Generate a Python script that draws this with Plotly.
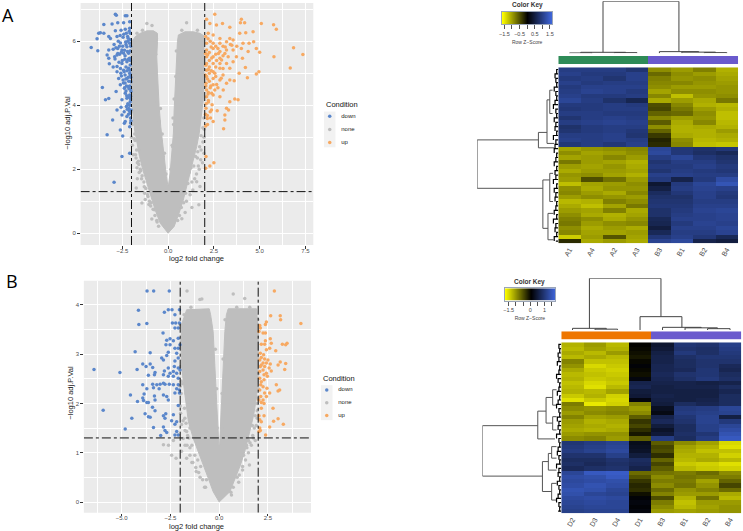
import plotly.graph_objects as go

W, H = 743, 531

# ---------- Volcano A ----------
a_down_x = [-4.20,-3.84,-3.88,-3.79,-3.70,-3.51,-3.51,-3.06,-2.88,-2.83,-2.34,-2.25,-2.75,-2.43,-2.10,-2.88,-2.57,-2.34,-2.10,-3.24,-3.15,-2.79,-2.46,-2.21,-2.07,-3.24,-3.33,-3.24,-2.75,-2.52,-2.25,-2.10,-2.79,-2.43,-2.16,-3.21,-2.79,-2.52,-2.25,-2.10,-2.79,-2.43,-2.16,-2.07,-2.70,-2.46,-2.25,-2.07,-2.61,-2.39,-2.16,-2.03,-2.34,-2.10,-2.03,-3.59,-2.84,-3.42,-3.24,-2.52,-2.25,-2.07,-2.79,-2.57,-2.28,-2.10,-2.52,-2.25,-2.07,-3.03,-2.34,-2.03,-2.61,-2.39,-3.33,-2.48,-2.10,-2.52,-2.10,-2.95,-2.2,-2.3,-2.6,-2.95,-3.0,-2.05,-2.15,-2.35,-2.65,-2.9,-2.3,-2.6,-3.0,-2.1,-2.35,-2.55,-2.15,-2.35,-2.1,-2.3,-2.05,-2.2,-2.15,-2.4,-2.05,
            -2.12,-2.28,-2.42,-2.62,-2.72,-2.05,-2.18,-2.32,-2.48,-2.66,-2.85,-2.08,-2.22,-2.38,-2.55,-2.75,-2.92,-2.06,-2.2,-2.36,-2.5,-2.68,-2.09,-2.24,-2.4,-2.58,-2.04,-2.17,-2.31,-2.44,-2.06,-2.14,-2.27,-2.37,-2.05,-2.13,-2.26,-2.09,-2.19,-2.03,-2.12,-2.23,-2.05,-2.16]
a_down_y = [5.81,5.71,6.08,6.25,6.27,6.25,6.53,6.54,6.85,6.82,6.80,6.80,6.58,6.58,6.61,6.33,6.35,6.38,6.41,6.15,6.09,6.15,6.13,6.15,6.25,5.73,5.57,5.47,5.78,5.73,5.83,5.94,5.57,5.63,5.63,5.30,5.21,5.31,5.36,5.47,5.05,5.10,5.16,5.26,4.84,4.79,4.84,4.95,4.64,4.53,4.58,4.74,4.38,4.32,4.43,4.56,4.43,4.17,4.21,4.17,4.22,4.11,3.85,3.94,3.96,4.01,3.70,3.65,3.75,3.54,3.49,3.52,3.23,3.44,3.08,3.04,3.33,2.40,2.50,1.59,6.0,5.9,5.95,5.9,5.75,5.85,5.45,5.55,5.6,5.45,5.2,5.15,5.2,5.0,4.95,4.92,4.75,4.7,4.6,4.45,4.2,4.05,3.9,3.8,3.6,
            6.32,6.25,6.22,6.18,6.0,6.05,6.1,5.98,5.85,5.85,5.8,5.7,5.68,5.72,5.66,5.62,5.52,5.4,5.42,5.44,5.4,5.35,5.1,5.08,5.05,5.0,4.88,4.88,4.82,4.7,4.5,4.52,4.6,4.55,4.28,4.25,4.3,4.0,4.02,3.85,3.82,3.88,3.45,3.72]
a_up_x = [2.10,2.55,2.28,2.64,2.97,3.37,4.0,3.95,4.18,5.09,5.76,5.91,2.19,2.46,2.83,3.37,3.91,4.24,4.64,2.10,2.46,2.83,3.19,3.55,4.09,4.67,4.42,2.10,2.46,2.83,3.19,3.55,4.0,4.37,4.82,5.0,6.85,7.36,5.78,6.67,2.10,2.46,2.83,3.28,3.73,4.06,2.10,2.46,2.83,3.19,3.55,2.10,2.46,2.83,3.37,3.88,4.22,4.82,4.96,2.10,2.46,2.83,3.37,3.61,4.33,2.07,2.46,3.19,2.10,2.55,3.01,2.10,2.46,2.83,3.37,3.64,3.82,2.07,2.37,2.68,3.19,3.30,2.14,2.46,3.10,3.10,3.03,2.07,2.05,2.28,2.50,2.3,2.6,2.25,2.6,2.25,2.65,3.0,2.25,2.6,3.0,2.25,2.6,2.25,3.0,2.3,2.2,2.65,2.2,2.3,3.4,3.75,3.0,
          2.05,2.18,2.35,2.72,3.12,3.48,2.04,2.16,2.38,2.75,2.92,3.1,2.06,2.2,2.36,2.55,2.9,2.04,2.15,2.33,2.72,2.06,2.18,2.38,2.08,2.2,2.4,2.04,2.14,2.05,2.15,2.32]
a_up_y = [6.69,6.85,6.56,6.51,6.56,6.44,6.69,6.58,6.58,6.56,6.52,6.38,6.25,6.20,6.09,6.09,6.25,6.27,6.30,5.94,5.94,5.94,5.99,6.04,5.94,5.99,5.94,5.73,5.78,5.68,5.73,5.73,5.78,5.68,5.78,5.66,5.80,5.59,5.52,5.17,5.52,5.52,5.47,5.52,5.52,5.47,5.31,5.31,5.31,5.31,5.36,5.10,5.05,5.16,5.16,5.0,5.18,4.98,5.05,4.90,4.84,4.79,4.79,4.77,4.86,4.69,4.64,4.69,4.48,4.48,4.48,4.27,4.32,4.27,4.11,4.20,4.17,3.91,3.85,3.83,3.91,3.85,3.59,3.49,3.70,3.54,3.27,2.40,2.03,2.10,2.20,6.0,5.85,5.65,5.6,5.4,5.4,5.55,5.2,5.2,5.15,5.0,4.9,4.75,4.95,4.55,4.4,4.65,4.15,3.8,5.9,5.85,5.85,
          6.15,6.08,5.82,5.78,5.82,5.88,5.62,5.58,5.48,5.62,5.42,5.62,5.25,5.12,5.08,5.0,4.85,4.95,4.82,4.6,4.55,4.6,4.35,4.38,4.05,4.1,4.02,3.72,3.68,3.35,3.4,3.6]
a_cloud_x = [0,-0.43,-0.71,-0.94,-1.16,-1.38,-1.56,-1.70,-1.83,-1.92,-2.01,-2.03,-2.03,-2.03,-1.97,-1.79,-1.52,-1.16,-0.80,-0.58,-0.58,-0.62,-0.58,-0.54,-0.49,-0.40,-0.29,-0.18,-0.09,-0.02,0.02,0.11,0.2,0.29,0.33,0.38,0.43,0.47,0.51,0.56,0.92,1.38,1.74,1.96,1.97,1.97,1.96,1.92,1.83,1.70,1.56,1.38,1.20,1.01,0.83,0.60,0.33,0]
a_cloud_y = [0,0.31,0.73,1.15,1.56,1.98,2.40,2.81,3.23,3.75,4.27,4.79,5.31,5.73,5.99,6.15,6.25,6.33,6.33,6.25,5.99,5.52,5.0,4.48,3.96,3.33,2.71,2.19,1.77,1.51,1.51,1.88,2.4,3.13,3.85,4.48,5.10,5.63,5.99,6.2,6.3,6.3,6.25,6.17,5.73,5.21,4.69,4.17,3.65,3.13,2.71,2.29,1.88,1.46,1.04,0.63,0.21,0]
a_none_x = [-1.5,-1.6,-1.75,-1.95,-1.9,-1.7,-1.45,-1.3,-1.74,-1.43,-1.1,-0.95,-0.76,-0.89,-0.6,-2.0,-1.95,-2.0,-1.8,-1.6,-1.16,-0.88,-1.4,-1.7,-0.65,-0.68,-0.66,-0.6,-0.5,-0.4,-0.27,1.01,1.6,0.75,0.45,0.42,0.33,0.3,0.25,1.68,1.3,0.93,0.75,1.56,1.74,1.35,1.7,1.88,1.96,1.96,1.8,1.95,1.6,1.2,1.0,1.97,1.9,
            -1.82,-1.72,-1.62,-1.52,-1.42,-1.32,-1.22,-1.12,-1.02,-0.92,-0.82,-0.72,-0.62,-0.52,-1.9,-1.85,-1.78,-1.68,-1.58,-1.28,-1.05,-1.68,-1.25,1.15,1.25,1.4,1.5,1.62,1.72,1.8,1.9,0.95,0.85,0.72,0.62,0.52,1.08,1.3,1.45,1.55,1.65,1.78,0.15,0.22,0.27,-0.12,-0.2,-0.32,-0.42]
a_none_y = [1.95,2.15,2.35,2.75,2.45,2.05,1.7,1.45,1.41,0.94,1.15,0.85,0.73,0.44,0.35,3.0,3.4,3.8,2.9,2.6,6.56,6.5,6.35,6.25,6.1,5.6,4.7,4.1,3.5,2.9,2.4,6.58,6.35,6.35,5.7,4.9,4.2,3.4,2.7,0.89,0.8,0.65,0.45,1.61,1.46,1.35,2.0,2.2,2.5,3.0,2.6,3.6,2.35,1.2,1.0,3.25,2.85,
            3.1,2.6,2.25,2.0,1.8,1.6,1.4,1.2,1.0,0.95,0.75,0.55,0.4,0.22,3.5,2.95,2.45,2.2,1.9,1.25,0.9,1.7,1.05,1.9,2.05,2.1,2.4,2.55,2.7,3.05,3.3,1.25,0.95,0.8,0.55,0.4,1.55,1.6,1.7,1.85,2.1,2.3,2.0,2.75,3.6,1.85,2.5,3.1,3.9]

# ---------- Volcano B ----------
b_down_x = [-3.70,-3.36,-2.56,-4.14,-4.12,-3.71,-2.61,-2.42,-2.81,-2.04,-2.27,-2.40,-2.23,-2.04,-2.27,-2.10,-2.88,-2.52,-2.69,-2.35,-2.10,-2.01,-2.73,-2.52,-2.27,-2.10,-4.31,-3.54,-2.61,-2.18,-2.95,-2.86,-2.69,-2.27,-2.10,-3.92,-3.54,-3.75,-3.41,-6.42,-4.21,-2.61,-2.30,-2.10,-2.81,-5.09,-3.29,-2.52,-2.35,-2.18,-2.01,-3.63,-3.32,-2.86,-2.61,-2.35,-2.10,-2.86,-3.03,-3.92,-3.41,-3.20,-2.78,-2.56,-2.35,-2.10,-3.37,-3.08,-3.71,-2.18,-2.04,-4.55,-3.85,-3.32,-2.86,-2.69,-2.27,-2.04,-3.92,-4.19,-3.88,-3.71,-3.63,-3.29,-2.61,-3.42,-2.10,-5.95,-3.29,-3.80,-2.74,-3.63,-3.54,-2.86,-2.78,-2.35,-4.48,-2.44,-2.18,-2.27,-4.82,-3.37,-2.86,-2.78,-2.69,-3.00,-2.18,-2.27,-2.10]
b_down_y = [4.28,4.28,4.28,3.89,3.60,3.62,3.90,3.90,3.85,3.90,3.80,3.63,3.63,3.63,3.53,3.53,3.43,3.31,3.28,3.27,3.32,3.19,3.19,3.19,3.12,3.12,3.05,3.03,3.04,3.02,2.92,2.88,2.97,2.86,2.92,2.80,2.80,2.75,2.73,2.69,2.69,2.72,2.75,2.72,2.66,2.63,2.63,2.61,2.65,2.61,2.68,2.57,2.58,2.58,2.55,2.55,2.51,2.41,2.39,2.38,2.39,2.38,2.39,2.39,2.38,2.38,2.32,2.30,2.30,2.30,2.27,2.17,2.19,2.15,2.17,2.14,2.21,2.21,2.11,2.04,2.06,2.02,2.02,2.07,2.07,1.92,1.96,1.86,1.85,1.79,1.79,1.73,1.72,1.75,1.70,1.77,1.70,1.65,1.63,1.58,1.48,1.51,1.52,1.45,1.41,1.35,1.43,1.36,1.36]
b_up_x = [2.83,2.64,3.13,3.15,4.19,2.42,2.37,2.08,2.11,2.04,2.25,2.37,2.62,2.37,2.16,2.33,2.67,3.24,3.41,3.48,2.42,2.90,2.59,2.11,2.28,2.16,2.33,2.50,2.08,2.25,2.16,2.42,2.62,3.02,3.13,3.41,2.11,2.33,2.56,2.25,3.36,2.67,2.08,2.42,2.30,2.47,2.08,2.30,2.16,2.25,2.13,2.93,2.45,2.08,3.02,3.10,2.59,2.33,2.13,2.42,2.04,2.25,2.16,2.30,2.16,2.76,2.04,2.30,2.08,2.16,3.02,2.79,3.29,2.59,2.08,2.11,2.04,2.38]
b_up_y = [4.28,3.78,3.78,3.70,3.62,3.65,3.60,3.58,3.53,3.46,3.43,3.43,3.31,3.27,3.20,3.20,3.22,3.20,3.19,3.22,3.09,3.07,3.12,3.02,2.99,2.93,2.90,2.88,2.88,2.82,2.78,2.82,2.80,2.78,2.84,2.81,2.75,2.75,2.72,2.68,2.69,2.66,2.65,2.61,2.58,2.55,2.51,2.48,2.44,2.34,2.38,2.38,2.31,2.27,2.25,2.27,2.21,2.21,2.14,2.14,2.07,2.07,2.02,2.0,1.90,1.90,1.75,1.75,1.67,1.63,1.69,1.64,1.58,1.52,1.50,1.45,1.43,1.36]
b_cloud_x = [0,-0.31,-0.56,-0.82,-1.07,-1.33,-1.58,-1.70,-1.84,-1.93,-1.96,-1.93,-1.67,-0.51,-0.44,-0.31,-0.22,-0.14,-0.07,-0.02,0.02,0.07,0.14,0.20,0.29,0.37,0.46,1.91,2.01,2.01,1.99,1.91,1.77,1.57,1.31,1.09,0.80,0.55,0]
b_cloud_y = [0,0.21,0.48,0.75,1.02,1.29,1.63,1.97,2.44,2.78,3.12,3.60,3.90,3.92,3.80,3.46,2.78,2.11,1.63,1.16,1.16,1.63,2.11,2.78,3.46,3.80,3.92,3.92,3.46,2.78,2.44,2.11,1.77,1.43,1.02,0.75,0.48,0.21,0]
b_none_x = [-2.86,-2.44,-2.21,-2.6,-2.35,-1.93,-1.67,-1.85,-1.67,-1.93,-1.76,-2.0,-1.95,-1.75,-1.5,-1.4,-1.2,-1.05,-0.85,-0.75,-1.65,-0.99,-0.89,-1.9,-1.95,-2.0,-1.8,-1.45,-1.5,-1.6,-1.7,0.72,1.31,1.57,0.63,1.0,1.2,1.35,1.5,1.65,1.75,1.9,1.95,2.0,1.85,1.55,1.85,1.4,1.98,2.0,0.9,0.3,
            -1.55,-1.4,-1.25,-1.1,-0.95,-0.65,-1.65,-1.5,-1.35,-1.18,-0.98,-0.7,-1.85,-1.75,-1.62,-1.95,-1.98,-1.78,-1.7,-1.98,-2.0,1.25,1.42,1.58,1.72,1.8,1.95,1.2,1.03,0.92,0.72,0.6,1.1,1.5,1.7,2.0,1.95,0.12,0.15,0.2,-0.1,-0.13,-0.2]
b_none_y = [1.16,0.95,0.89,1.15,1.25,1.03,0.89,1.29,1.43,1.57,1.7,1.95,2.2,1.15,1.1,0.8,0.7,0.6,0.45,0.3,4.28,4.11,4.12,2.4,3.3,3.6,3.8,3.95,1.5,1.95,2.2,4.22,4.13,3.95,0.14,0.4,0.65,0.85,1.0,1.15,1.3,1.55,1.85,2.1,1.25,0.75,1.75,1.15,3.7,2.6,3.95,3.7,
            1.3,1.15,0.95,0.85,0.72,0.45,1.15,0.95,0.8,0.62,0.5,0.3,1.65,1.45,1.35,2.45,2.75,1.9,1.6,1.8,2.35,0.95,1.1,1.2,1.35,1.5,1.7,0.72,0.55,0.5,0.3,0.2,0.9,1.25,1.55,2.3,2.0,1.5,2.2,2.9,1.5,2.3,3.1]

legend_labels = ["down", "none", "up"]
cutoff_fc = 2
cutoff_p = 1.3

# ---------- Heatmap A (columns, rows top to bottom) ----------
cols_a = ["A1", "A4", "A2", "A3", "B3", "B1", "B2", "B4"]
hm_a1 = [1.05,1.1,1.0,1.1,1.0,1.05,1.1,1.2,1.0,0.95,1.05,0.9,1.05,0.85,0.9,1.05,1.1,0.95,-1.15,-1.0,-1.15,-0.85,-1.1,-1.2,-1.05,-1.1,-1.35,-1.0,-0.95,-1.1,-1.3,-1.2,-1.1,-1.0,-0.9,-0.85,-1.0,-0.95,-1.45,-0.3]
hm_a4 = [1.05,1.0,1.05,1.0,1.1,1.15,1.0,1.05,1.0,1.0,1.05,1.05,1.1,1.0,1.0,1.05,1.05,1.05,-1.05,-1.15,-1.1,-1.1,-1.15,-1.1,-1.0,-0.55,-1.15,-1.2,-1.1,-1.0,-1.25,-1.35,-1.15,-1.2,-1.0,-1.1,-1.2,-1.15,-1.1,-1.2]
hm_a2 = [1.05,1.0,0.9,1.05,1.1,1.1,1.0,0.85,1.05,1.05,1.0,1.1,1.15,1.05,1.05,1.1,1.1,0.95,-1.0,-1.1,-0.95,-1.15,-1.05,-1.1,-1.15,-0.8,-1.1,-1.05,-1.2,-1.05,-0.9,-1.15,-0.9,-1.25,-1.2,-1.0,-1.1,-1.15,-0.6,-1.1]
hm_a3 = [0.9,1.1,1.1,1.05,1.1,1.0,1.05,0.65,1.0,1.05,1.0,1.05,1.1,1.05,0.95,0.9,1.05,1.1,-0.95,-1.0,-1.1,-1.25,-1.2,-1.15,-1.25,-1.1,-1.0,-1.05,-0.95,-1.1,-1.0,-0.85,-1.2,-1.15,-1.05,-0.95,-1.2,-1.1,-1.15,-1.2]
hm_ab3 = [-1.0,-0.75,-0.9,-0.95,-1.0,-1.15,-0.95,-1.2,-0.55,-0.5,-0.7,-0.95,-0.65,-1.0,-0.7,-0.4,-0.25,-0.3,1.2,1.25,1.05,0.9,1.0,0.9,1.1,1.0,0.4,0.55,0.75,0.85,0.9,0.95,0.85,0.85,0.7,0.65,0.5,0.7,0.95,1.15]
hm_ab1 = [-1.1,-1.0,-1.05,-0.95,-1.1,-1.0,-1.35,-1.1,-0.95,-0.85,-0.75,-1.1,-1.2,-1.25,-1.25,-1.2,-1.0,-0.95,0.95,0.95,1.2,1.05,1.0,1.05,1.1,0.6,1.0,1.05,0.95,0.85,0.9,0.95,1.0,1.05,1.1,1.0,1.1,1.05,1.1,1.25]
hm_ab2 = [-0.9,-1.1,-1.0,-1.05,-1.1,-1.0,-1.05,-1.2,-1.25,-1.1,-1.0,-1.05,-0.95,-1.2,-1.25,-1.25,-1.3,-1.35,0.85,0.8,0.95,1.05,1.1,1.0,1.05,1.0,1.2,1.15,1.1,1.1,1.05,1.1,1.15,1.1,1.1,1.15,1.1,1.05,0.95,0.6]
hm_ab4 = [-1.25,-1.2,-1.15,-1.1,-1.05,-1.05,-1.0,-0.85,-1.3,-1.25,-1.35,-1.35,-1.3,-1.25,-1.1,-1.2,-1.25,-1.4,0.95,0.7,0.85,0.9,1.0,0.95,1.05,1.3,1.45,1.1,1.0,0.95,1.05,1.1,1.2,1.15,1.15,1.1,1.2,1.15,0.7,0.5]

# ---------- Heatmap B ----------
cols_b = ["D2", "D3", "D4", "D1", "B3", "B1", "B2", "B4"]
hm_d2 = [-1.15,-1.2,-1.1,-1.2,-0.85,-0.95,-1.1,-1.2,-1.15,-1.25,-1.2,-1.15,-1.3,-1.45,-0.8,-0.9,-1.0,-0.85,-1.0,-1.05,-1.1,-1.0,-0.9,0.85,0.9,0.95,0.8,0.7,0.75,0.65,1.1,1.2,1.15,1.2,1.3,1.25,1.15,1.1,1.05,1.0]
hm_d3 = [-1.0,-1.05,-1.2,-1.1,-1.25,-1.4,-1.3,-1.25,-1.3,-1.4,-1.45,-1.2,-1.15,-1.3,-1.5,-0.95,-0.9,-1.05,-1.15,-1.1,-1.15,-0.95,-0.85,0.95,1.0,1.05,0.8,0.7,0.65,0.75,1.4,1.25,1.2,1.3,1.25,1.1,1.2,1.15,1.1,1.05]
hm_d4 = [-1.2,-1.15,-1.0,-1.2,-1.25,-1.3,-1.35,-1.3,-1.25,-1.3,-1.2,-1.05,-1.35,-1.4,-1.35,-0.9,-0.85,-1.0,-1.1,-1.15,-1.1,-0.95,-1.0,1.05,1.1,1.15,1.0,0.8,0.75,0.8,1.45,1.4,1.25,1.2,1.1,1.05,1.15,1.1,1.1,1.05]
hm_d1 = [-0.02,-0.05,-0.1,-0.15,-0.05,0.05,-0.05,-0.1,0.1,0.55,0.6,0.45,0.4,0.1,-0.85,-1.0,-0.9,-0.6,-0.35,-0.45,-0.3,-0.15,-0.6,0.2,0.25,0.3,0.45,0.7,0.65,0.55,-0.7,-0.55,-0.35,-0.25,-0.3,-0.1,0.05,0.1,0.05,0.1]
hm_bb3 = [0.35,0.4,0.5,0.55,0.55,0.6,0.6,0.65,0.6,0.55,0.5,0.5,0.55,0.5,0.45,0.25,0.15,0.55,0.65,0.45,0.3,0.4,0.95,-0.6,-0.45,-0.5,-0.3,-0.65,-0.45,-0.6,-0.75,-0.9,-0.8,-0.9,-0.7,-0.85,-0.5,-0.8,-0.9,-1.0]
hm_bb1 = [0.85,0.8,0.9,0.75,0.7,0.7,0.65,0.8,0.75,0.55,0.55,0.5,0.5,0.5,0.7,0.9,0.95,0.85,0.8,0.7,0.7,0.75,0.7,-0.9,-1.05,-1.1,-1.15,-1.2,-1.3,-1.2,-0.8,-0.75,-0.8,-0.75,-0.95,-1.0,-1.15,-1.25,-1.2,-1.05]
hm_bb2 = [0.8,0.75,0.75,0.85,0.8,0.8,0.85,0.85,0.9,0.5,0.55,0.5,0.5,0.55,0.6,0.95,1.0,1.05,1.05,1.0,1.0,0.85,0.95,-1.05,-1.15,-1.25,-1.15,-1.1,-1.35,-1.3,-0.7,-0.8,-1.05,-0.95,-0.85,-1.0,-0.75,-1.0,-1.05,-1.0]
hm_bb4 = [1.0,0.95,0.9,0.85,0.8,0.65,0.6,0.7,0.75,0.55,0.7,0.6,0.7,0.7,0.7,1.1,1.05,0.5,0.9,1.1,1.2,1.3,1.4,-1.4,-1.45,-1.25,-1.35,-1.2,-1.45,-1.35,-0.9,-0.8,-0.65,-0.45,-0.7,-1.1,-1.2,-1.0,-0.95,-0.95]

group_codes = [0, 0, 0, 0, 1, 1, 1, 1]

# Dendrogram merges: (height, pos_a, pos_b, height_a, height_b)
top_a = [(156,1.49,4.87,3,5),(3,0.5,2.5,1,2),(1,0,1,0,0),(2,2,3,0,0),(5,4,5.75,0,3.5),(3.5,5,6.5,0,2),(2,6,7,0,0)]
top_b = [(155,0.75,3.93,5,40),(5,0,1.5,0,2.5),(2.5,1,2,0,0),(40,3,4.86,0,8),(8,4,5.72,0,6.5),(6.5,5,6.44,0,4),(4,6,7,0,0)]
side_a = [(100,16.0,27.0,24.5,19),(24.5,14.3,17.8,13.9,5),(13.9,6.9,16.8,10.5,5),(10.5,4.7,10,7,7),(19,25.1,36.1,10.5,12.7),(10.5,23.6,30,6.5,6.5),(12.7,32.7,38.7,6,6)]
side_b = [(100,19.0,30.8,29.8,23.9),(29.8,15.6,22.1,19.3,8),(19.3,12.4,18.4,10.9,10.9),(10.9,10.6,14.2,6,6),(10.9,16.9,20,6,6),(23.9,27.4,34.4,16.4,12.2),(16.4,25.5,29.4,12.2,6),(12.2,23.9,26.6,6,6),(12.2,32.5,36.4,6,6)]
leaf_a = [2,4,3,2,5,3,2,4,6,3,2,5,3,4,2,6,3,4,5,2,3,5,2,4,3,6,2,5,3,4,2,3,5,2,6,3,4,2,5,3]
leaf_b = [3,2,4,3,5,2,3,6,4,2,3,5,2,4,6,3,2,5,3,4,2,6,3,2,4,5,3,2,6,3,4,2,5,3,2,4,6,3,2,4]

key_a_z = [-1.66, 0, 1.66]
key_b_z = [-1.78, 0, 1.78]
key_a_ticks = [-1.5,-1,-0.5,0,0.5,1,1.5]
key_a_text = ["−1.5","","−0.5","","0.5","","1.5"]
key_b_ticks = [-1.5,-1,-0.5,0,0.5,1,1.5]
key_b_text = ["−1.5","","","0","","1",""]

BLUE, GREY, ORANGE = "#5B87CB", "#BEBEBE", "#F7A962"
HEAT = [[0, "#FFFF00"], [0.5, "#000000"], [1, "#4169E1"]]
FONT = "Liberation Sans"


def dx(p0, p1):
    return [p0 / W, p1 / W]


def dy(p_top, p_bot):
    return [1 - p_bot / H, 1 - p_top / H]


fig = go.Figure()
layout = {"shapes": [], "annotations": []}
axn = [0]


def new_axes(xdom, ydom, xkw=None, ykw=None):
    axn[0] += 1
    n = axn[0]
    s = "" if n == 1 else str(n)
    base = dict(showgrid=False, zeroline=False, showticklabels=False, ticks="", fixedrange=True)
    xa = dict(base, domain=xdom, anchor="y" + s)
    ya = dict(base, domain=ydom, anchor="x" + s)
    xa.update(xkw or {})
    ya.update(ykw or {})
    layout["xaxis" + s] = xa
    layout["yaxis" + s] = ya
    return "x" + s, "y" + s


def volcano(box, xr, yr, xticks, yticks, xminor, cloud, none, down, up, xtitle_pos, ytitle_pos):
    layout["shapes"].append(dict(type="rect", xref="paper", yref="paper", layer="below",
                                 x0=box[0] / W, x1=box[1] / W, y0=1 - box[3] / H, y1=1 - box[2] / H,
                                 fillcolor="#EBEBEB", line=dict(width=0)))
    gg = dict(
        showgrid=True, gridcolor="white", gridwidth=1, showticklabels=True, ticks="outside",
        ticklen=2.5, tickwidth=0.7, tickcolor="#333333",
        tickfont=dict(family=FONT, size=6, color="#4D4D4D"),
    )
    xk = dict(gg, range=xr, tickvals=xticks, tickformat=".1f", ticklabelstandoff=-3,
              minor=dict(tickvals=xminor, showgrid=True, gridcolor="white", gridwidth=0.4, ticks=""))
    yk = dict(gg, range=yr, tickvals=yticks,
              minor=dict(tickvals=[v + 0.5 * (yticks[1] - yticks[0]) for v in yticks], showgrid=True,
                         gridcolor="white", gridwidth=0.4, ticks=""))
    title_font = dict(family=FONT, size=7.5, color="#222")
    layout["annotations"].append(dict(text="log2 fold change", xref="paper", yref="paper", showarrow=False,
                                      xanchor="center", yanchor="middle",
                                      x=xtitle_pos[0] / W, y=1 - xtitle_pos[1] / H, font=title_font))
    layout["annotations"].append(dict(text="−log10 adj.P.Val", xref="paper", yref="paper", showarrow=False,
                                      xanchor="center", yanchor="middle",
                                      textangle=-90, x=ytitle_pos[0] / W, y=1 - ytitle_pos[1] / H, font=title_font))
    xa, ya = new_axes(dx(box[0], box[1]), dy(box[2], box[3]), xk, yk)
    fig.add_trace(go.Scatter(x=cloud[0], y=cloud[1], mode="lines", fill="toself", fillcolor=GREY,
                             line=dict(color=GREY, width=1), xaxis=xa, yaxis=ya, name="none (dense)"))
    m = lambda c: dict(color=c, size=3.5, line=dict(width=0))
    fig.add_trace(go.Scatter(x=none[0], y=none[1], mode="markers", marker=m(GREY), xaxis=xa, yaxis=ya, name="none"))
    fig.add_trace(go.Scatter(x=down[0], y=down[1], mode="markers", marker=m(BLUE), xaxis=xa, yaxis=ya, name="down"))
    fig.add_trace(go.Scatter(x=up[0], y=up[1], mode="markers", marker=m(ORANGE), xaxis=xa, yaxis=ya, name="up"))
    ln = dict(color="#111111", width=1, dash="dashdot")
    for v in (-cutoff_fc, cutoff_fc):
        fig.add_trace(go.Scatter(x=[v, v], y=yr, mode="lines", line=ln, xaxis=xa, yaxis=ya, name="fc cutoff"))
    fig.add_trace(go.Scatter(x=xr, y=[cutoff_p, cutoff_p], mode="lines", line=ln, xaxis=xa, yaxis=ya, name="p cutoff"))


def key_legend(px_left, py_rows):
    top, bot = py_rows
    xa, ya = new_axes(dx(px_left, px_left + 11.6), dy(top, bot),
                      dict(range=[0, 1]), dict(type="category", autorange="reversed",
                                               categoryorder="array", categoryarray=legend_labels))
    layout["shapes"].append(dict(type="rect", xref="paper", yref="paper", layer="below",
                                 x0=px_left / W, x1=(px_left + 11.6) / W, y0=1 - bot / H, y1=1 - top / H,
                                 fillcolor="#F2F2F2", line=dict(width=0)))
    fig.add_trace(go.Scatter(x=[0.5, 0.5, 0.5], y=legend_labels, mode="markers+text", text=["     " + t for t in legend_labels],
                             textposition="middle right", cliponaxis=False,
                             textfont=dict(family=FONT, size=6, color="#222"),
                             marker=dict(color=[BLUE, GREY, ORANGE], size=3.5), xaxis=xa, yaxis=ya, name="key"))
    layout["annotations"].append(dict(text="Condition", xref="paper", yref="paper", x=px_left / W, y=1 - (top - 7) / H,
                                      xanchor="left", yanchor="middle", showarrow=False,
                                      font=dict(family=FONT, size=7.5, color="#111")))


def dendro_lines(merges, vertical):
    a, b = [], []
    for h, p0, p1, h0, h1 in merges:
        a += [p0, p0, p1, p1, None]
        b += [h0, h, h, h1, None]
    return (a, b) if vertical else (b, a)


def heat_panel(cols, rows_z, bx, by, bar_y, top_box, side_x, merges_top, merges_side, leaf, group_colors, zlim):
    nrow = len(rows_z[0])
    xa, ya = new_axes(dx(bx[0], bx[1]), dy(by[0], by[1]),
                      dict(type="category", categoryorder="array", categoryarray=cols, showticklabels=True,
                           tickangle=-60, tickfont=dict(family=FONT, size=7, color="#444")),
                      dict(range=[nrow - 0.5, -0.5]))
    z = [[rows_z[c][r] for c in range(8)] for r in range(nrow)]
    fig.add_trace(go.Heatmap(z=z, x=cols, y=list(range(nrow)), zmin=-zlim, zmax=zlim, colorscale=HEAT,
                             showscale=False, xaxis=xa, yaxis=ya, name="z"))
    xb, yb = new_axes(dx(bx[0], bx[1]), dy(bar_y[0], bar_y[1]), dict(range=[-0.5, 7.5]), dict())
    fig.add_trace(go.Heatmap(z=[group_codes], x=list(range(8)), zmin=0, zmax=1, showscale=False,
                             colorscale=[[0, group_colors[0]], [1, group_colors[1]]], xaxis=xb, yaxis=yb, name="group"))
    xt, yt = new_axes(dx(bx[0], bx[1]), dy(top_box[0], top_box[1]), dict(range=[-0.5, 7.5]),
                      dict(range=[0, merges_top[0][0]]))
    tx, ty = dendro_lines(merges_top, True)
    fig.add_trace(go.Scatter(x=tx, y=ty, mode="lines", line=dict(color="#444", width=1), xaxis=xt, yaxis=yt,
                             cliponaxis=False, name="col dendrogram"))
    xs, ys = new_axes(dx(side_x, bx[0]), dy(by[0], by[1]), dict(range=[100, 0]), dict(range=[nrow - 0.5, -0.5]))
    sx, sy = dendro_lines(merges_side, False)
    fig.add_trace(go.Scatter(x=sx, y=sy, mode="lines", line=dict(color="#555", width=1), xaxis=xs, yaxis=ys,
                             cliponaxis=False, name="row dendrogram"))
    lx, ly = [], []
    for r, h in enumerate(leaf):
        lx += [0, h, h, None]
        ly += [r, r, min(r + 1, nrow - 1), None]
    fig.add_trace(go.Scatter(x=lx, y=ly, mode="lines", line=dict(color="#000", width=1.2), xaxis=xs, yaxis=ys,
                             name="row leaves"))


def color_key(bx, by, z, rng, ticks, text):
    xk, yk = new_axes(dx(bx[0], bx[1]), dy(by[0], by[1]),
                      dict(range=rng, tickvals=ticks, ticktext=text, showticklabels=True, ticks="outside", ticklen=4,
                           tickwidth=0.6, tickcolor="#555", tickfont=dict(family=FONT, size=5.5, color="#444"),
                           title=dict(text="Row Z−Score", font=dict(family=FONT, size=5, color="#444"), standoff=4),
                           showline=True, linecolor="#9AA5B8", mirror=True, linewidth=1),
                      dict(showline=True, linecolor="#9AA5B8", mirror=True, linewidth=1, range=[-0.5, 0.5]))
    fig.add_trace(go.Heatmap(z=[z], x=z, y=[0], zmin=z[0], zmax=z[-1], colorscale=HEAT, zsmooth="best",
                             showscale=False, xaxis=xk, yaxis=yk, name="key"))
    layout["annotations"].append(dict(text="<b>Color Key</b>", xref="paper", yref="paper", x=(bx[0] + bx[1]) / 2 / W,
                                      y=1 - (by[0] - 6.3) / H, showarrow=False, xanchor="center", yanchor="middle",
                                      font=dict(family=FONT, size=6.5, color="#333")))


volcano((78, 312, 3, 245), [-4.78, 7.93], [-0.37, 7.2], [-2.5, 0, 2.5, 5, 7.5], [0, 2, 4, 6],
        [-3.75, -1.25, 1.25, 3.75, 6.25],
        (a_cloud_x, a_cloud_y), (a_none_x, a_none_y), (a_down_x, a_down_y), (a_up_x, a_up_y), (195, 258), (65, 123))
volcano((81.3, 309.7, 280.7, 512.7), [-6.94, 4.71], [-0.217, 4.49], [-5, -2.5, 0, 2.5], [0, 1, 2, 3, 4],
        [-6.25, -3.75, -1.25, 1.25, 3.75],
        (b_cloud_x, b_cloud_y), (b_none_x, b_none_y), (b_down_x, b_down_y), (b_up_x, b_up_y), (195, 526), (67, 393))

key_legend(322.7, (111.5, 147.3))
key_legend(319.7, (385.2, 420.2))

heat_panel(cols_a, [hm_a1, hm_a4, hm_a2, hm_a3, hm_ab3, hm_ab1, hm_ab2, hm_ab4],
           (558.3, 739), (67.3, 243.3), (56, 64), (1.3, 53.3), 476.7, top_a, side_a, leaf_a,
           ("#2E8B57", "#6A5ACD"), 1.8)
heat_panel(cols_b, [hm_d2, hm_d3, hm_d4, hm_d1, hm_bb3, hm_bb1, hm_bb2, hm_bb4],
           (561.3, 742.3), (342.3, 513.3), (331.3, 339.7), (278.3, 330), 482, top_b, side_b, leaf_b,
           ("#EE7600", "#6A5ACD"), 1.65)

color_key((501.7, 552.3), (11.7, 24.3), key_a_z, [-1.66, 1.66], key_a_ticks, key_a_text)
color_key((504.3, 555.3), (288.3, 300.7), key_b_z, [-1.78, 1.74], key_b_ticks, key_b_text)

for letter, px, py in (("A", 5, 15), ("B", 9, 281)):
    layout["annotations"].append(dict(text=letter, xref="paper", yref="paper", x=px / W, y=1 - py / H,
                                      showarrow=False, xanchor="center", yanchor="middle",
                                      font=dict(family="Open Sans", size=18, color="black")))

fig.update_layout(width=W, height=H, margin=dict(l=0, r=0, t=0, b=0), paper_bgcolor="white",
                  plot_bgcolor="rgba(0,0,0,0)", showlegend=False, **layout)
fig.write_html("out.html", post_script="document.body.style.margin='0';", config=dict(displayModeBar=False))
